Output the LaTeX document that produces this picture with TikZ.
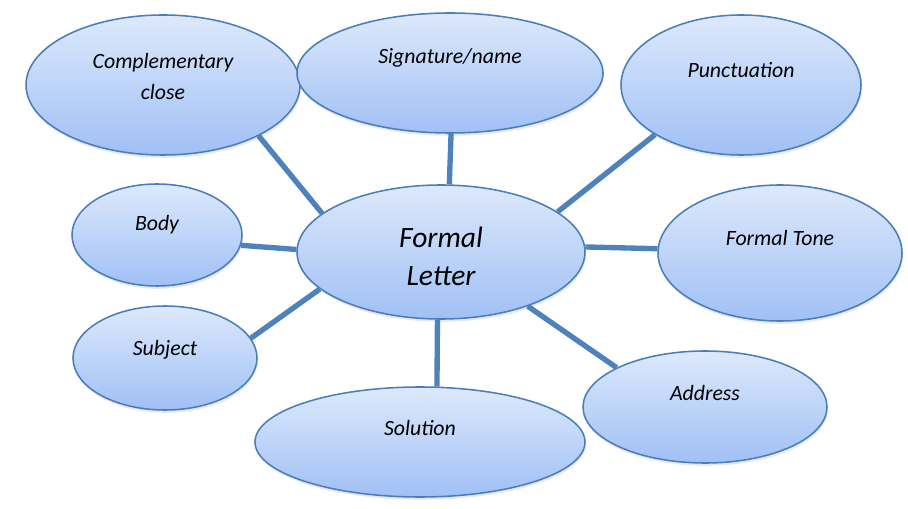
\documentclass[tikz,border=0pt]{standalone}
\usepackage{fontspec}
\setmainfont{Carlito}
\usepackage{tikz}
\usetikzlibrary{shapes.geometric}
\usetikzlibrary{shadows}

\definecolor{rim}{RGB}{74,126,187}
\definecolor{spoke}{RGB}{79,129,189}
\definecolor{lighttop}{RGB}{221,233,252}
\definecolor{darkbottom}{RGB}{160,192,245}

\begin{document}
\begin{tikzpicture}[
        bubble/.style={draw=rim, line width=1.1pt, ellipse, inner sep=0pt,
            top color=lighttop, bottom color=darkbottom,
            drop shadow={opacity=0.18, shadow xshift=0.6pt, shadow yshift=-2pt}},
        word/.style={font=\fontsize{15.5}{22}\selectfont\itshape, align=center, inner sep=0pt},
        bigword/.style={font=\fontsize{21}{27}\selectfont\itshape, align=center, inner sep=0pt},
        spoke/.style={draw=spoke, line width=3.8pt}
    ]
        \useasboundingbox (0,0) rectangle (22.7,12.7);

        \node[bubble, minimum width=6.85cm, minimum height=3.5cm] (Complementary) at (4.075,10.575) {};
        \node[bubble, minimum width=7.65cm, minimum height=3.0cm] (Signature) at (11.25,10.875) {};
        \node[bubble, minimum width=6.0cm, minimum height=3.5cm] (Punctuation) at (18.525,10.575) {};
        \node[bubble, minimum width=4.25cm, minimum height=2.55cm] (Body) at (3.925,6.825) {};
        \node[bubble, minimum width=7.2cm, minimum height=3.35cm] (Letter) at (11.025,6.4) {};
        \node[bubble, minimum width=6.1cm, minimum height=3.4cm] (Tone) at (19.5,6.375) {};
        \node[bubble, minimum width=4.6cm, minimum height=2.6cm] (Subject) at (4.125,3.75) {};
        \node[bubble, minimum width=8.25cm, minimum height=2.75cm] (Solution) at (10.5,1.65) {};
        \node[bubble, minimum width=6.1cm, minimum height=2.8cm] (Address) at (17.625,2.525) {};

        \node[word] (ComplementaryText) at (4.075,10.79) {Complementary\\close};
        \node[word] (SignatureText) at (11.25,11.25) {Signature/name};
        \node[word] (PunctuationText) at (18.525,10.95) {Punctuation};
        \node[word] (BodyText) at (3.925,7.075) {Body};
        \node[bigword] (LetterText) at (11.025,6.3) {Formal\\Letter};
        \node[word] (ToneText) at (19.5,6.75) {Formal Tone};
        \node[word] (SubjectText) at (4.125,3.95) {Subject};
        \node[word] (SolutionText) at (10.5,2.0) {Solution};
        \node[word] (AddressText) at (17.625,2.875) {Address};

        \draw[spoke] (Complementary.-28) -- (Letter.162);
        \draw[spoke] (Signature.-89) -- (Letter.83);
        \draw[spoke] (Punctuation.210) -- (Letter.19);
        \draw[spoke] (Body.-7) -- (Letter.179);
        \draw[spoke] (Tone.178) -- (Letter.2);
        \draw[spoke] (Subject.13) -- (Letter.197);
        \draw[spoke] (Solution.73) -- (Letter.267);
        \draw[spoke] (Address.156) -- (Letter.-32);

    \end{tikzpicture}
\end{document}
